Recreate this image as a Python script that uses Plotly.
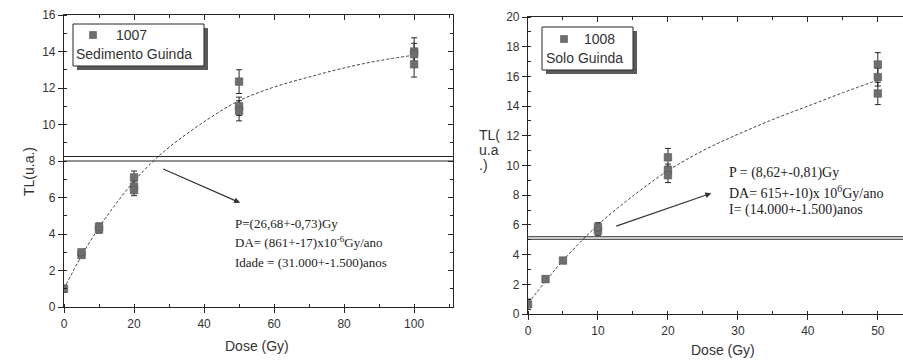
import plotly.graph_objects as go

W, H = 903, 360

# ---- Panel 1: sample 1007, Sedimento Guinda ----
dose_1007 = [0, 5, 5, 10, 10, 20, 20, 20, 50, 50, 50, 100, 100, 100]
tl_1007 = [1.0, 2.85, 3.0, 4.25, 4.4, 7.1, 6.6, 6.4, 12.35, 11.0, 10.75, 14.0, 13.85, 13.3]
err_1007 = [0.2, 0.15, 0.15, 0.2, 0.2, 0.35, 0.3, 0.3, 0.65, 0.5, 0.55, 0.75, 0.6, 0.7]
fit_dose_1007 = [0, 5, 10, 15, 20, 25, 30, 40, 50, 60, 70, 80, 90, 100]
fit_tl_1007 = [1.0, 2.8, 4.35, 5.7, 6.9, 7.9, 8.75, 10.15, 11.3, 12.05, 12.6, 13.1, 13.5, 13.8]
natural_tl_1007 = [8.25, 8.0]
text_1007 = ["P=(26,68+-0,73)Gy",
             "DA= (861+-17)x10<sup>-6</sup>Gy/ano",
             "Idade = (31.000+-1.500)anos"]

# ---- Panel 2: sample 1008, Solo Guinda ----
dose_1008 = [0, 2.5, 5, 10, 10, 20, 20, 20, 50, 50, 50]
tl_1008 = [0.65, 2.35, 3.6, 5.6, 5.85, 10.55, 9.7, 9.35, 16.8, 15.95, 14.85]
err_1008 = [0.35, 0.2, 0.2, 0.3, 0.3, 0.6, 0.4, 0.5, 0.8, 0.6, 0.75]
fit_dose_1008 = [0, 2.5, 5, 10, 15, 20, 25, 30, 35, 40, 45, 50]
fit_tl_1008 = [0.7, 2.2, 3.6, 6.0, 7.95, 9.65, 11.0, 12.1, 13.1, 14.0, 14.9, 15.75]
natural_tl_1008 = [5.2, 5.03]
text_1008 = ["P = (8,62+-0,81)Gy",
             "DA= 615+-10)x 10<sup>6</sup>Gy/ano",
             "I= (14.000+-1.500)anos"]

X1_MAX, Y1_MAX = 111.1, 16
X2_MAX, Y2_MAX = 53.6, 20

INK = "#262626"
MARK = "#6e6e6e"
SANS = "Arial, Liberation Sans, sans-serif"
SERIF = "Liberation Serif, Times New Roman, serif"


def px(x):
    return x / W


def py(y):
    return 1 - y / H


fig = go.Figure()


def add_panel(xa, ya, xo, yo, dose, tl, err, fdose, ftl, levels, xmax):
    # horizontal natural-TL double line
    for lv in levels:
        fig.add_trace(go.Scatter(x=[0, xmax], y=[lv, lv], mode="lines",
                                 line=dict(color=INK, width=1.1),
                                 xaxis=xo, yaxis=yo, showlegend=False,
                                 hoverinfo="skip"))
    # fitted growth curve
    fig.add_trace(go.Scatter(x=fdose, y=ftl, mode="lines", line_shape="spline",
                             line=dict(color="#444", width=1, dash="3px,2px"),
                             xaxis=xa, yaxis=ya, showlegend=False))
    # measured points
    fig.add_trace(go.Scatter(x=dose, y=tl, mode="markers",
                             marker=dict(symbol="square", size=7.5, color=MARK,
                                         line=dict(color="#555", width=0.6)),
                             error_y=dict(type="data", array=err, color=INK,
                                          thickness=1, width=3),
                             xaxis=xa, yaxis=ya, showlegend=False))


add_panel("x", "y", "x3", "y3", dose_1007, tl_1007, err_1007,
          fit_dose_1007, fit_tl_1007, natural_tl_1007, X1_MAX)
add_panel("x2", "y2", "x4", "y4", dose_1008, tl_1008, err_1008,
          fit_dose_1008, fit_tl_1008, natural_tl_1008, X2_MAX)

dom1x = [px(64), px(453)]
dom1y = [py(307), py(15)]
dom2x = [px(528), 1.0]
dom2y = [py(314), py(17)]

tickfont = dict(family=SANS, size=12, color="#333")


def main_axis(domain, rng, dtick, mdtick, anchor):
    return dict(domain=domain, range=rng, anchor=anchor, showline=True,
                automargin=False,
                linecolor=INK, linewidth=1.2, ticks="outside", ticklen=5,
                tickwidth=1, tickcolor=INK, dtick=dtick, tick0=0,
                minor=dict(dtick=mdtick, tick0=0, ticks="inside", ticklen=3,
                           tickcolor=INK, tickwidth=1),
                showgrid=False, zeroline=False, tickfont=tickfont)


def mirror_axis(over, side, rng, dtick, mdtick, anchor, show=True):
    return dict(overlaying=over, side=side, range=rng, anchor=anchor,
                automargin=False,
                showline=show, linecolor=INK, linewidth=1.2,
                ticks="inside" if show else "", ticklen=5, tickwidth=1,
                tickcolor=INK, dtick=dtick, tick0=0,
                minor=dict(dtick=mdtick, tick0=0,
                           ticks="inside" if show else "", ticklen=3,
                           tickcolor=INK, tickwidth=1),
                showticklabels=False, showgrid=False, zeroline=False)


fig.update_layout(
    width=W, height=H,
    margin=dict(l=0, r=0, t=0, b=0, autoexpand=False),
    paper_bgcolor="white", plot_bgcolor="white",
    showlegend=False,
    xaxis=main_axis(dom1x, [0, X1_MAX], 20, 10, "y"),
    yaxis=main_axis(dom1y, [0, Y1_MAX], 2, 1, "x"),
    xaxis2=main_axis(dom2x, [0, X2_MAX], 10, 5, "y2"),
    yaxis2=main_axis(dom2y, [0, Y2_MAX], 2, 1, "x2"),
    xaxis3=mirror_axis("x", "top", [0, X1_MAX], 20, 10, "y"),
    yaxis3=mirror_axis("y", "right", [0, Y1_MAX], 2, 1, "x"),
    xaxis4=mirror_axis("x2", "top", [0, X2_MAX], 10, 5, "y2"),
    yaxis4=mirror_axis("y2", "right", [0, Y2_MAX], 2, 1, "x2", show=False),
)

ann = []
shapes = []


def label(text, x, y, font, xanchor="left", angle=0):
    ann.append(dict(text=text, x=px(x), y=py(y), xref="paper", yref="paper",
                    xanchor=xanchor, yanchor="middle", textangle=angle,
                    showarrow=False, font=font))


sans13 = dict(family=SANS, size=13, color="#333")
sans14 = dict(family=SANS, size=14, color="#333")
serif13 = dict(family=SERIF, size=13, color="#222")
serif14 = dict(family=SERIF, size=14, color="#222")

# axis titles
label("TL(u.a.)", 29, 171, sans14, xanchor="center", angle=-90)
label("Dose (Gy)", 257, 346, sans14, xanchor="center")
label("Dose (Gy)", 723, 350, sans14, xanchor="center")
for t, yy in zip(["TL(", "u.a", ".)"], [135, 150, 165]):
    label(t, 477, yy, sans14)

# result text blocks
for t, yy in zip(text_1007, [223, 242, 262]):
    label(t, 233, yy, serif13)
for t, yy in zip(text_1008, [173, 192, 210]):
    label(t, 727, yy, serif14)

# arrows from the crossing point to the result text
ann.append(dict(x=50.3, y=5.71, ax=27.9, ay=7.6, xref="x", yref="y",
                axref="x", ayref="y", text="", showarrow=True, arrowhead=2,
                arrowsize=1, arrowwidth=1.2, arrowcolor="#333"))
ann.append(dict(x=26.2, y=8.13, ax=12.4, ay=5.88, xref="x2", yref="y2",
                axref="x2", ayref="y2", text="", showarrow=True, arrowhead=2,
                arrowsize=1, arrowwidth=1.2, arrowcolor="#333"))


# legend boxes with drop shadow
def legend_box(x0, y0, x1, y1, mx, my, code, name, tx, ty1, ty2, name_x):
    shapes.append(dict(type="rect", xref="paper", yref="paper",
                       x0=px(x0 + 4), x1=px(x1 + 4), y0=py(y1 + 4), y1=py(y0 + 4),
                       fillcolor="#5a5a5a", line=dict(width=0), layer="above"))
    shapes.append(dict(type="rect", xref="paper", yref="paper",
                       x0=px(x0), x1=px(x1), y0=py(y1), y1=py(y0),
                       fillcolor="white", line=dict(color=INK, width=1),
                       layer="above"))
    shapes.append(dict(type="rect", xref="paper", yref="paper",
                       x0=px(mx - 3.5), x1=px(mx + 3.5), y0=py(my + 3.5),
                       y1=py(my - 3.5), fillcolor=MARK,
                       line=dict(color="#555", width=0.6), layer="above"))
    label(code, tx, ty1, sans14)
    label(name, name_x, ty2, sans14)


legend_box(73, 24, 204, 66, 93, 35, "1007", "Sedimento Guinda", 114, 35, 54, 74)
legend_box(542, 27, 633, 70, 564, 39, "1008", "Solo Guinda", 582, 39, 58, 544)

fig.update_layout(annotations=ann, shapes=shapes)

fig.write_html("out.html")
